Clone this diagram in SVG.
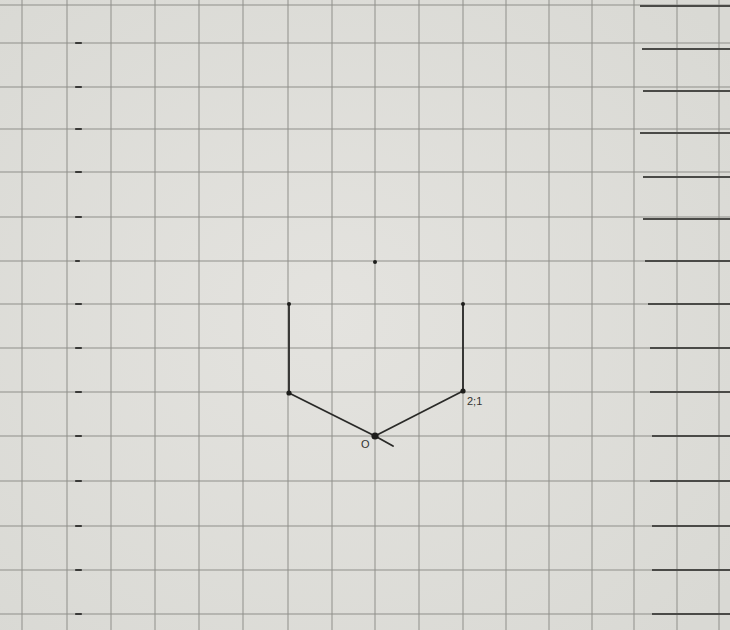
<svg xmlns="http://www.w3.org/2000/svg" width="730" height="630" viewBox="0 0 730 630">
<defs>
<style>
.g{stroke:#8f8f8a;stroke-width:1;fill:none}
.tk{stroke:#3a3a38;stroke-width:2.2;stroke-linecap:round}
.rk{stroke:#4a4a47;stroke-width:1.8}
.ln{stroke:#2a2a28;stroke-width:1.8;fill:none;stroke-linecap:round}
.pt{fill:#1e1e1c}
.lb{font-family:"Liberation Sans",Arial,sans-serif;font-size:11px;fill:#333331}
</style>
<radialGradient id="bg" cx="0.45" cy="0.5" r="0.7">
<stop offset="0" stop-color="#e4e3df"/>
<stop offset="1" stop-color="#d9d9d4"/>
</radialGradient>
</defs>
<rect width="730" height="630" fill="url(#bg)"/>
<g id="grid">
<path class="g" d="M22,0V630M67,0V630M111,0V630M155,0V630M199,0V630M243,0V630M288,0V630M332,0V630M375,0V630M419,0V630M463,0V630M506,0V630M549,0V630M592,0V630M634,0V630M677,0V630M719,0V630"/>
<path class="g" d="M0,5H730M0,43H730M0,87H730M0,129H730M0,172H730M0,217H730M0,261H730M0,304H730M0,348H730M0,392H730M0,436H730M0,481H730M0,526H730M0,570H730M0,614H730"/>
</g>
<g id="ticks">
<path class="tk" d="M76,43h5M76,87h5M76,129h5M76,172h5M76,217h5M76,261h3M76,304h5M76,348h5M76,392h5M76,436h5M76,481h5M76,526h5M76,570h5M76,614h5"/>
<path class="rk" d="M640,6H730M642,49H730M643,91H730M640,133H730M643,177H730M643,219H730M645,261H730M648,304H730M650,348H730M650,392H730M652,436H730M650,481H730M652,526H730M652,570H730M652,614H730"/>
</g>
<g id="connectors">
<path class="ln" d="M289,304V393L375,436"/>
<path class="ln" d="M463,304V391L375,436"/>
<path class="ln" d="M375,436L393,446"/>
</g>
<g id="node-top"><circle class="pt" cx="375" cy="262" r="2"/></g>
<g id="node-left-top"><circle class="pt" cx="289" cy="304" r="2"/></g>
<g id="node-right-top"><circle class="pt" cx="463" cy="304" r="2"/></g>
<g id="node-left"><circle class="pt" cx="289" cy="393" r="2.6"/></g>
<g id="node-right"><circle class="pt" cx="463" cy="391" r="2.6"/><text class="lb" x="467" y="405">2;1</text></g>
<g id="node-origin"><circle class="pt" cx="375" cy="436" r="3.6"/><text class="lb" x="361" y="448">O</text></g>
</svg>
